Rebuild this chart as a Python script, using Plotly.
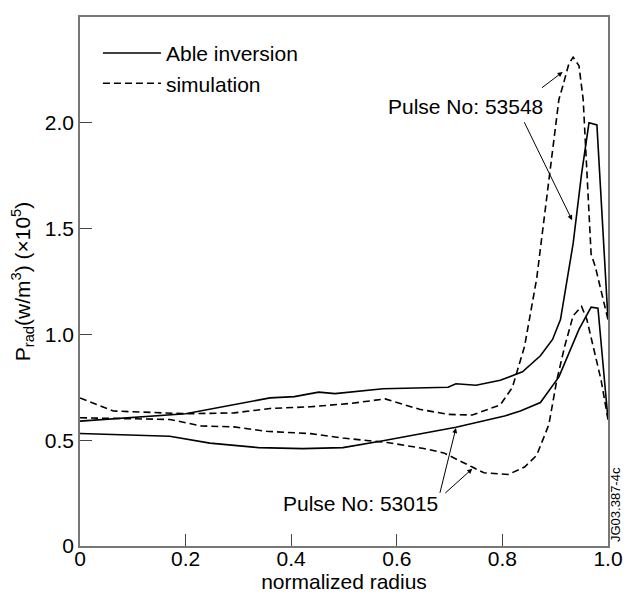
import plotly.graph_objects as go

# Pulse 53548
x_53548_inv = [0, 0.2, 0.36, 0.406, 0.452, 0.483, 0.574, 0.697, 0.712, 0.75, 0.796, 0.838, 0.872, 0.895, 0.91, 0.934, 0.95, 0.964, 0.979, 1.0]
y_53548_inv = [0.59, 0.625, 0.70, 0.706, 0.727, 0.72, 0.743, 0.75, 0.767, 0.76, 0.783, 0.823, 0.899, 0.976, 1.07, 1.43, 1.76, 2.0, 1.99, 1.07]
x_53548_sim = [0, 0.063, 0.2, 0.292, 0.36, 0.437, 0.513, 0.578, 0.643, 0.697, 0.743, 0.796, 0.819, 0.842, 0.865, 0.876, 0.892, 0.907, 0.914, 0.926, 0.934, 0.945, 0.953, 0.96, 0.968, 0.976, 1.0]
y_53548_sim = [0.70, 0.638, 0.625, 0.629, 0.65, 0.658, 0.674, 0.695, 0.646, 0.622, 0.619, 0.667, 0.75, 0.944, 1.265, 1.48, 1.79, 2.11, 2.17, 2.28, 2.31, 2.27, 2.11, 1.79, 1.38, 1.32, 1.07]

# Pulse 53015
x_53015_inv = [0, 0.17, 0.246, 0.338, 0.422, 0.498, 0.574, 0.651, 0.712, 0.804, 0.834, 0.872, 0.907, 0.945, 0.968, 0.981, 1.0]
y_53015_inv = [0.532, 0.519, 0.486, 0.465, 0.46, 0.465, 0.497, 0.534, 0.561, 0.614, 0.638, 0.678, 0.799, 1.024, 1.129, 1.124, 0.598]
x_53015_sim = [0, 0.17, 0.23, 0.292, 0.353, 0.437, 0.498, 0.582, 0.651, 0.689, 0.743, 0.765, 0.811, 0.842, 0.865, 0.888, 0.903, 0.918, 0.934, 0.95, 0.96, 0.972, 0.987, 1.0]
y_53015_sim = [0.606, 0.598, 0.567, 0.563, 0.542, 0.531, 0.51, 0.489, 0.461, 0.44, 0.373, 0.346, 0.338, 0.373, 0.429, 0.574, 0.783, 0.944, 1.088, 1.132, 1.07, 0.944, 0.783, 0.598]

x_ticks = [0, 0.2, 0.4, 0.6, 0.8, 1.0]
x_ticktext = ["0", "0.2", "0.4", "0.6", "0.8", "1.0"]
y_ticks = [0, 0.5, 1.0, 1.5, 2.0, 2.5]
y_ticktext = ["0", "0.5", "1.0", "1.5", "2.0", "2.5"]

FONT = "Liberation Sans, Arial, sans-serif"
FS = 21
LW = 1.6
DASH = "7px,4px"

fig = go.Figure()
fig.add_trace(go.Scatter(x=x_53548_inv, y=y_53548_inv, mode="lines", name="Able inversion",
                         line=dict(color="black", width=LW), legendgroup="inv", showlegend=True))
fig.add_trace(go.Scatter(x=x_53548_sim, y=y_53548_sim, mode="lines", name="simulation",
                         line=dict(color="black", width=LW, dash=DASH), legendgroup="sim", showlegend=True))
fig.add_trace(go.Scatter(x=x_53015_inv, y=y_53015_inv, mode="lines", name="Able inversion",
                         line=dict(color="black", width=LW), legendgroup="inv", showlegend=False))
fig.add_trace(go.Scatter(x=x_53015_sim, y=y_53015_sim, mode="lines", name="simulation",
                         line=dict(color="black", width=LW, dash=DASH), legendgroup="sim", showlegend=False))

arrow = dict(showarrow=True, arrowhead=2, arrowsize=1, arrowwidth=1, arrowcolor="black",
             axref="x", ayref="y", text="")
annotations = [
    dict(x=0.731, y=2.079, xref="x", yref="y", text="Pulse No: 53548", showarrow=False,
         font=dict(size=FS, color="black", family=FONT)),
    dict(x=0.914, y=2.24, ax=0.872, ay=2.16, xref="x", yref="y", **arrow),
    dict(x=0.932, y=1.54, ax=0.84, ay=2.01, xref="x", yref="y", **arrow),
    dict(x=0.531, y=0.203, xref="x", yref="y", text="Pulse No: 53015", showarrow=False,
         font=dict(size=FS, color="black", family=FONT)),
    dict(x=0.712, y=0.558, ax=0.681, ay=0.244, xref="x", yref="y", **arrow),
    dict(x=0.743, y=0.365, ax=0.689, ay=0.244, xref="x", yref="y", **arrow),
    dict(x=1.0, y=0.0, xref="paper", yref="paper", xanchor="left", yanchor="bottom",
         xshift=-2, yshift=2, text="JG03.387-4c", textangle=-90, showarrow=False,
         font=dict(size=13, color="black", family=FONT)),
]

# page has an 8px body margin: size/margins compensate so the plot box lands at 80..608 x 17..546
fig.update_layout(
    width=625, height=591,
    margin=dict(l=72, r=25, t=9, b=53, autoexpand=False),
    paper_bgcolor="white", plot_bgcolor="white",
    font=dict(family=FONT, size=FS, color="black"),
    showlegend=True,
    legend=dict(x=0.034, y=0.970, xanchor="left", yanchor="top", bgcolor="rgba(0,0,0,0)",
                font=dict(size=FS, family=FONT), tracegroupgap=0, itemwidth=58),
    annotations=annotations,
)
fig.update_xaxes(range=[0, 1], tickvals=x_ticks, ticktext=x_ticktext, ticks="inside", ticklen=12,
                 tickcolor="#444", showline=True, linecolor="#777", linewidth=1.6, mirror=True,
                 showgrid=False, zeroline=False, automargin=False, ticklabelstandoff=-7,
                 title=dict(text="normalized radius", font=dict(size=FS, family=FONT), standoff=2),
                 tickfont=dict(size=FS, family=FONT))
fig.update_yaxes(range=[0, 2.5], tickvals=y_ticks, ticktext=y_ticktext, ticks="inside", ticklen=12,
                 tickcolor="#444", showline=True, linecolor="#777", linewidth=1.6, mirror=True,
                 showgrid=False, zeroline=False, automargin=False,
                 title=dict(text="P<sub>rad</sub>(w/m<sup>3</sup>) (×10<sup>5</sup>)",
                            font=dict(size=FS, family=FONT), standoff=11),
                 tickfont=dict(size=FS, family=FONT))

fig.write_html("out.html")
